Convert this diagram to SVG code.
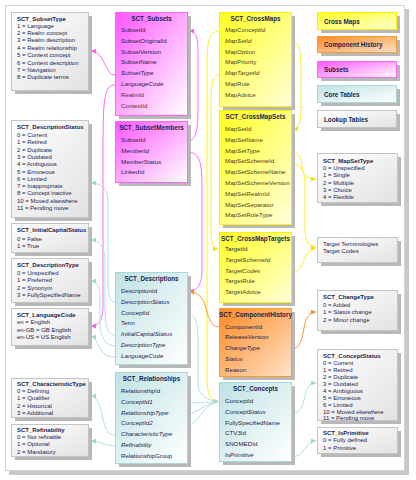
<svg xmlns="http://www.w3.org/2000/svg" width="416" height="480" viewBox="0 0 416 480">
<defs>
<linearGradient id="gM" x1="0" y1="0" x2="1" y2="1"><stop offset="0" stop-color="#ff55ff"/><stop offset="1" stop-color="#ffffff"/></linearGradient>
<linearGradient id="gY" x1="0" y1="0" x2="1" y2="1"><stop offset="0" stop-color="#ffff22"/><stop offset="1" stop-color="#ffffd8"/></linearGradient>
<linearGradient id="gO" x1="0" y1="0" x2="1" y2="1"><stop offset="0" stop-color="#ff8a22"/><stop offset="1" stop-color="#ffe2c8"/></linearGradient>
<linearGradient id="gT" x1="0" y1="0" x2="1" y2="1"><stop offset="0" stop-color="#bfe2e4"/><stop offset="1" stop-color="#ffffff"/></linearGradient>
<linearGradient id="gL" x1="0" y1="0" x2="1" y2="1"><stop offset="0" stop-color="#ffffff"/><stop offset="1" stop-color="#e2e2e2"/></linearGradient>
<marker id="aM" viewBox="0 0 6 6" refX="6" refY="3" markerWidth="5" markerHeight="5" orient="auto" markerUnits="userSpaceOnUse"><path d="M0,0 L6,3 L0,6 z" fill="#ff55ff"/></marker>
<marker id="aY" viewBox="0 0 6 6" refX="6" refY="3" markerWidth="5" markerHeight="5" orient="auto" markerUnits="userSpaceOnUse"><path d="M0,0 L6,3 L0,6 z" fill="#f2e400"/></marker>
<marker id="aO" viewBox="0 0 6 6" refX="6" refY="3" markerWidth="5" markerHeight="5" orient="auto" markerUnits="userSpaceOnUse"><path d="M0,0 L6,3 L0,6 z" fill="#ff8c1a"/></marker>
<marker id="aT" viewBox="0 0 6 6" refX="6" refY="3" markerWidth="5" markerHeight="5" orient="auto" markerUnits="userSpaceOnUse"><path d="M0,0 L6,3 L0,6 z" fill="#9fd6d8"/></marker>
</defs>
<style>
text{font-family:"Liberation Sans",Arial,sans-serif;fill:#1c1c4e}
.sh{fill:#b8b8b8}
.bm{fill:url(#gM);stroke:#ff66ff;stroke-width:1}
.by{fill:url(#gY);stroke:#ffee00;stroke-width:1}
.bo{fill:url(#gO);stroke:#ff9933;stroke-width:1}
.bt{fill:url(#gT);stroke:#a9d8da;stroke-width:1}
.bl{fill:url(#gL);stroke:#c4c4c4;stroke-width:1}
.hd{font-size:6.3px;font-weight:bold;text-anchor:middle}
.f{font-size:6.2px}
.i{font-style:italic}
.r{fill:#6a1a2a}
.y{fill:#4a4222}
.lk{font-size:6px}
.lg{font-size:6.3px;font-weight:bold}
.cm{fill:none;stroke:#ff66ff;stroke-width:1}
.cy{fill:none;stroke:#ffee22;stroke-width:1}
.co{fill:none;stroke:#ff9933;stroke-width:1}
.ct{fill:none;stroke:#b4dfe1;stroke-width:1}
</style>
<rect x="0" y="0" width="416" height="480" fill="#ffffff"/>
<rect x="9" y="9" width="400" height="466" fill="#c8c8c8"/>
<rect x="5.5" y="5.5" width="399" height="465" fill="#ffffff" stroke="#d4d4d4"/>

<g id="connectors">
<path class="cm" d="M115,75 C104,75 106,52 91,51" marker-end="url(#aM)"/>
<path class="cm" d="M115,85 C104,85 103,100 103,150 L103,305 C103,320 99,326 91,326" marker-end="url(#aM)"/>
<path class="cm" d="M187,141 C198,141 198,125 198,100 L198,50 C198,36 195,31 189,31" marker-end="url(#aM)"/>
<path class="cm" d="M187,152 C201,152 202,165 202,190 L202,270 C202,285 197,291 189,291" marker-end="url(#aM)"/>
<path class="cy" d="M219,31 C209,31 207,45 207,60 L207,380 C207,394 211,401 218,401" marker-end="url(#aY)"/>
<path class="cy" d="M219,75 C211,75 211,90 211,110 L211,230 C211,244 213,249 218,249" marker-end="url(#aY)"/>
<path class="cy" d="M292,42 C300,42 301,55 301,70 L301,110 C301,122 299,129 293,129" marker-end="url(#aY)"/>
<path class="cy" d="M291,152 C298,152 302,158 302,166 C302,176 308,179 316,179" marker-end="url(#aY)"/>
<path class="cy" d="M291,163 C300,163 305,170 305,185 L305,230 C305,242 309,247 316,247" marker-end="url(#aY)"/>
<path class="cy" d="M291,272 C300,272 302,265 305,258 C308,251 311,249 316,248" marker-end="url(#aY)"/>
<path class="co" d="M219,327 C210,327 208,315 205,305 C202,296 197,292 189,292" marker-end="url(#aO)"/>
<path class="co" d="M291,349 C300,349 302,340 304,328 C306,316 310,312 316,312" marker-end="url(#aO)"/>
<path class="ct" d="M115,302 C108,302 108,290 108,280 L108,200 C108,188 100,183 91,183" marker-end="url(#aT)"/>
<path class="ct" d="M115,335 C105,335 105,320 105,300 L105,260 C105,246 98,240 91,240" marker-end="url(#aT)"/>
<path class="ct" d="M115,346 C104,346 100,335 100,320 L100,296 C100,286 96,281 91,281" marker-end="url(#aT)"/>
<path class="ct" d="M115,357 C104,357 101,350 98,345 C96,340 94,337 91,337" marker-end="url(#aT)"/>
<path class="ct" d="M187,313 C196,313 198,325 198,340 L198,385 C198,396 209,401 218,401" marker-end="url(#aT)"/>
<path class="ct" d="M187,403 C199,403 205,402 218,402"/>
<path class="ct" d="M187,414 C198,414 202,404 218,402"/>
<path class="ct" d="M187,425 C200,425 200,406 218,402"/>
<path class="ct" d="M115,435 C104,435 104,420 101,410 C98,402 96,396 91,396" marker-end="url(#aT)"/>
<path class="ct" d="M115,446 C105,446 100,441 91,441" marker-end="url(#aT)"/>
<path class="ct" d="M291,414 C302,414 304,400 306,392 C308,386 311,383 316,383" marker-end="url(#aT)"/>
<path class="ct" d="M291,457 C302,457 305,448 308,445 C310,442 313,441 316,441" marker-end="url(#aT)"/>
</g>

<g id="SCT_SubsetType">
<rect class="sh" x="15" y="16" width="77" height="78"/>
<rect class="bl" x="11.5" y="12.5" width="77" height="78"/>
<text class="lk" x="17" y="20.5" font-weight="bold">SCT_SubsetType</text>
<text class="lk" x="17" y="27.5">1 = Language</text>
<text class="lk" x="17" y="34.9">2 = Realm concept</text>
<text class="lk" x="17" y="42.3">3 = Realm description</text>
<text class="lk" x="17" y="49.7">4 = Realm relationship</text>
<text class="lk" x="17" y="57.1">5 = Context concept</text>
<text class="lk" x="17" y="64.5">6 = Context description</text>
<text class="lk" x="17" y="71.9">7 = Navigation</text>
<text class="lk" x="17" y="79.3">8 = Duplicate terms</text>
</g>

<g id="SCT_DescriptionStatus">
<rect class="sh" x="15" y="124" width="77" height="97"/>
<rect class="bl" x="11.5" y="120.5" width="77" height="97"/>
<text class="lk" x="17" y="129" font-weight="bold">SCT_DescriptionStatus</text>
<text class="lk" x="17" y="137">0 = Current</text>
<text class="lk" x="17" y="144.3">1 = Retired</text>
<text class="lk" x="17" y="151.6">2 = Duplicate</text>
<text class="lk" x="17" y="158.9">3 = Outdated</text>
<text class="lk" x="17" y="166.2">4 = Ambiguous</text>
<text class="lk" x="17" y="173.5">5 = Erroneous</text>
<text class="lk" x="17" y="180.8">6 = Limited</text>
<text class="lk" x="17" y="188.1">7 = Inappropriate</text>
<text class="lk" x="17" y="195.4">8 = Concept inactive</text>
<text class="lk" x="17" y="202.7">10 = Moved elsewhere</text>
<text class="lk" x="17" y="210">11 = Pending move</text>
</g>

<g id="SCT_InitialCapitalStatus">
<rect class="sh" x="15" y="227" width="77" height="29"/>
<rect class="bl" x="11.5" y="223.5" width="77" height="29"/>
<text class="lk" x="17" y="232" font-weight="bold">SCT_InitialCapitalStatus</text>
<text class="lk" x="17" y="240.5">0 = False</text>
<text class="lk" x="17" y="248">1 = True</text>
</g>

<g id="SCT_DescriptionType">
<rect class="sh" x="15" y="262" width="77" height="44"/>
<rect class="bl" x="11.5" y="258.5" width="77" height="44"/>
<text class="lk" x="17" y="267" font-weight="bold">SCT_DescriptionType</text>
<text class="lk" x="17" y="274.5">0 = Unspecified</text>
<text class="lk" x="17" y="282">1 = Preferred</text>
<text class="lk" x="17" y="289.5">2 = Synonym</text>
<text class="lk" x="17" y="297">3 = FullySpecifiedName</text>
</g>

<g id="SCT_LanguageCode">
<rect class="sh" x="15" y="312" width="77" height="37"/>
<rect class="bl" x="11.5" y="308.5" width="77" height="37"/>
<text class="lk" x="17" y="316.5" font-weight="bold">SCT_LanguageCode</text>
<text class="lk" x="17" y="324">en = English</text>
<text class="lk" x="17" y="331.5">en-GB = GB English</text>
<text class="lk" x="17" y="339">en-US = US English</text>
</g>

<g id="SCT_CharacteristicType">
<rect class="sh" x="15" y="382" width="77" height="39"/>
<rect class="bl" x="11.5" y="378.5" width="77" height="39"/>
<text class="lk" x="17" y="386" font-weight="bold">SCT_CharacteristicType</text>
<text class="lk" x="17" y="393.2">0 = Defining</text>
<text class="lk" x="17" y="400.4">1 = Qualifier</text>
<text class="lk" x="17" y="407.6">2 = Historical</text>
<text class="lk" x="17" y="414.8">3 = Additional</text>
</g>

<g id="SCT_Refinability">
<rect class="sh" x="15" y="428" width="77" height="32"/>
<rect class="bl" x="11.5" y="424.5" width="77" height="32"/>
<text class="lk" x="17" y="432" font-weight="bold">SCT_Refinability</text>
<text class="lk" x="17" y="439.2">0 = Not refinable</text>
<text class="lk" x="17" y="446.4">1 = Optional</text>
<text class="lk" x="17" y="453.6">2 = Mandatory</text>
</g>

<g id="SCT_Subsets">
<rect class="sh" x="119" y="16" width="72" height="103"/>
<rect class="bm" x="115.5" y="12.5" width="72" height="103"/>
<text class="hd" x="151.5" y="21">SCT_Subsets</text>
<text class="f" x="121" y="32">SubsetId</text>
<text class="f" x="121" y="42.8">SubsetOriginalId</text>
<text class="f" x="121" y="53.6">SubsetVersion</text>
<text class="f" x="121" y="64.4">SubsetName</text>
<text class="f i" x="121" y="75.2">SubsetType</text>
<text class="f i" x="121" y="86">LanguageCode</text>
<text class="f r" x="121" y="96.8">RealmId</text>
<text class="f r" x="121" y="107.6">ContextId</text>
</g>

<g id="SCT_SubsetMembers">
<rect class="sh" x="119" y="125" width="72" height="61"/>
<rect class="bm" x="115.5" y="121.5" width="72" height="61"/>
<text class="hd" x="151.5" y="130">SCT_SubsetMembers</text>
<text class="f" x="121" y="142">SubsetId</text>
<text class="f i" x="121" y="152.8">MemberId</text>
<text class="f" x="121" y="163.6">MemberStatus</text>
<text class="f" x="121" y="174.4">LinkedId</text>
</g>

<g id="SCT_Descriptions">
<rect class="sh" x="119" y="276" width="72" height="92"/>
<rect class="bt" x="115.5" y="272.5" width="72" height="92"/>
<text class="hd" x="151.5" y="280.5">SCT_Descriptions</text>
<text class="f" x="121" y="293">DescriptionId</text>
<text class="f i" x="121" y="303.8">DescriptionStatus</text>
<text class="f i" x="121" y="314.6">ConceptId</text>
<text class="f" x="121" y="325.4">Term</text>
<text class="f i" x="121" y="336.2">InitialCapitalStatus</text>
<text class="f i" x="121" y="347">DescriptionType</text>
<text class="f i" x="121" y="357.8">LanguageCode</text>
</g>

<g id="SCT_Relationships">
<rect class="sh" x="119" y="376" width="72" height="91"/>
<rect class="bt" x="115.5" y="372.5" width="72" height="91"/>
<text class="hd" x="151.5" y="381">SCT_Relationships</text>
<text class="f" x="121" y="393">RelationshipId</text>
<text class="f i" x="121" y="403.8">ConceptId1</text>
<text class="f i" x="121" y="414.6">RelationshipType</text>
<text class="f i" x="121" y="425.4">ConceptId2</text>
<text class="f i" x="121" y="436.2">CharacteristicType</text>
<text class="f i" x="121" y="447">Refinability</text>
<text class="f" x="121" y="457.8">RelationshipGroup</text>
</g>

<g id="SCT_CrossMaps">
<rect class="sh" x="223" y="16" width="72" height="94"/>
<rect class="by" x="219.5" y="12.5" width="72" height="94"/>
<text class="hd" x="255.5" y="21">SCT_CrossMaps</text>
<text class="f i y" x="225" y="32">MapConceptId</text>
<text class="f i y" x="225" y="42.8">MapSetId</text>
<text class="f y" x="225" y="53.6">MapOption</text>
<text class="f y" x="225" y="64.4">MapPriority</text>
<text class="f i y" x="225" y="75.2">MapTargetId</text>
<text class="f y" x="225" y="86">MapRule</text>
<text class="f y" x="225" y="96.8">MapAdvice</text>
</g>

<g id="SCT_CrossMapSets">
<rect class="sh" x="223" y="114" width="72" height="114"/>
<rect class="by" x="219.5" y="110.5" width="72" height="114"/>
<text class="hd" x="255.5" y="119">SCT_CrossMapSets</text>
<text class="f y" x="225" y="131">MapSetId</text>
<text class="f y" x="225" y="141.8">MapSetName</text>
<text class="f i y" x="225" y="152.6">MapSetType</text>
<text class="f r" x="225" y="163.4">MapSetSchemeId</text>
<text class="f y" x="225" y="174.2">MapSetSchemeName</text>
<text class="f y" x="225" y="185">MapSetSchemeVersion</text>
<text class="f y" x="225" y="195.8">MapSetRealmId</text>
<text class="f y" x="225" y="206.6">MapSetSeparator</text>
<text class="f y" x="225" y="217.4">MapSetRuleType</text>
</g>

<g id="SCT_CrossMapTargets">
<rect class="sh" x="223" y="236" width="72" height="70"/>
<rect class="by" x="219.5" y="232.5" width="72" height="70"/>
<text class="hd" x="255.5" y="240.5">SCT_CrossMapTargets</text>
<text class="f" x="225" y="251">TargetId</text>
<text class="f i y" x="225" y="261.8">TargetSchemeId</text>
<text class="f i y" x="225" y="272.6">TargetCodes</text>
<text class="f y" x="225" y="283.4">TargetRule</text>
<text class="f y" x="225" y="294.2">TargetAdvice</text>
</g>

<g id="SCT_ComponentHistory">
<rect class="sh" x="223" y="312" width="72" height="68"/>
<rect class="bo" x="219.5" y="308.5" width="72" height="68"/>
<text class="hd" x="255.5" y="316.5">SCT_ComponentHistory</text>
<text class="f" x="225" y="328.5">ComponentId</text>
<text class="f" x="225" y="339.3">ReleaseVersion</text>
<text class="f i" x="225" y="350.1">ChangeType</text>
<text class="f i" x="225" y="360.9">Status</text>
<text class="f" x="225" y="371.7">Reason</text>
</g>

<g id="SCT_Concepts">
<rect class="sh" x="223" y="386" width="72" height="79"/>
<rect class="bt" x="219.5" y="382.5" width="72" height="79"/>
<text class="hd" x="255.5" y="391">SCT_Concepts</text>
<text class="f" x="225" y="403">ConceptId</text>
<text class="f i" x="225" y="413.8">ConceptStatus</text>
<text class="f" x="225" y="424.6">FullySpecifiedName</text>
<text class="f" x="225" y="435.4">CTV3Id</text>
<text class="f" x="225" y="446.2">SNOMEDId</text>
<text class="f i" x="225" y="457">IsPrimitive</text>
</g>

<g id="legend_CrossMaps">
<rect class="sh" x="321" y="16" width="79" height="17"/>
<rect class="by" x="317.5" y="12.5" width="79" height="17"/>
<text class="lg" x="324" y="23.5">Cross Maps</text>
</g>
<g id="legend_ComponentHistory">
<rect class="sh" x="321" y="40" width="79" height="16"/>
<rect class="bo" x="317.5" y="36.5" width="79" height="16"/>
<text class="lg" x="324" y="47">Component History</text>
</g>
<g id="legend_Subsets">
<rect class="sh" x="321" y="65" width="79" height="16"/>
<rect class="bm" x="317.5" y="61.5" width="79" height="16"/>
<text class="lg" x="324" y="72">Subsets</text>
</g>
<g id="legend_CoreTables">
<rect class="sh" x="321" y="89" width="79" height="17"/>
<rect class="bt" x="317.5" y="85.5" width="79" height="17"/>
<text class="lg" x="324" y="96.5">Core Tables</text>
</g>
<g id="legend_LookupTables">
<rect class="sh" x="321" y="114" width="79" height="17"/>
<rect class="bl" x="317.5" y="110.5" width="79" height="17"/>
<text class="lg" x="324" y="121.5">Lookup Tables</text>
</g>

<g id="SCT_MapSetType">
<rect class="sh" x="321" y="157" width="80" height="49"/>
<rect class="bl" x="317.5" y="153.5" width="80" height="49"/>
<text class="lk" x="323" y="162.5" font-weight="bold">SCT_MapSetType</text>
<text class="lk" x="323" y="170">0 = Unspecified</text>
<text class="lk" x="323" y="177.3">1 = Single</text>
<text class="lk" x="323" y="184.6">2 = Multiple</text>
<text class="lk" x="323" y="191.9">3 = Choice</text>
<text class="lk" x="323" y="199.2">4 = Flexible</text>
</g>

<g id="TargetTerminologies">
<rect class="sh" x="321" y="241" width="80" height="25"/>
<rect class="bl" x="317.5" y="237.5" width="80" height="25"/>
<text class="lk" x="323" y="245.5">Target Terminologies</text>
<text class="lk" x="323" y="252.5">Target Codes</text>
</g>

<g id="SCT_ChangeType">
<rect class="sh" x="321" y="294" width="80" height="40"/>
<rect class="bl" x="317.5" y="290.5" width="80" height="40"/>
<text class="lk" x="323" y="299" font-weight="bold">SCT_ChangeType</text>
<text class="lk" x="323" y="306.5">0 = Added</text>
<text class="lk" x="323" y="314">1 = Status change</text>
<text class="lk" x="323" y="321.5">2 = Minor change</text>
</g>

<g id="SCT_ConceptStatus">
<rect class="sh" x="321" y="353" width="80" height="71"/>
<rect class="bl" x="317.5" y="349.5" width="80" height="71"/>
<text class="lk" x="323" y="358" font-weight="bold">SCT_ConceptStatus</text>
<text class="lk" x="323" y="365.2">0 = Current</text>
<text class="lk" x="323" y="372.1">1 = Retired</text>
<text class="lk" x="323" y="379">2 = Duplicate</text>
<text class="lk" x="323" y="385.9">3 = Outdated</text>
<text class="lk" x="323" y="392.8">4 = Ambiguous</text>
<text class="lk" x="323" y="399.7">5 = Erroneous</text>
<text class="lk" x="323" y="406.6">6 = Limited</text>
<text class="lk" x="323" y="413.5">10 = Moved elsewhere</text>
<text class="lk" x="323" y="420.4">11 = Pending move</text>
</g>

<g id="SCT_IsPrimitive">
<rect class="sh" x="321" y="431" width="80" height="26"/>
<rect class="bl" x="317.5" y="427.5" width="80" height="26"/>
<text class="lk" x="323" y="435" font-weight="bold">SCT_IsPrimitive</text>
<text class="lk" x="323" y="442.3">0 = Fully defined</text>
<text class="lk" x="323" y="449.6">1 = Primitive</text>
</g>
</svg>
